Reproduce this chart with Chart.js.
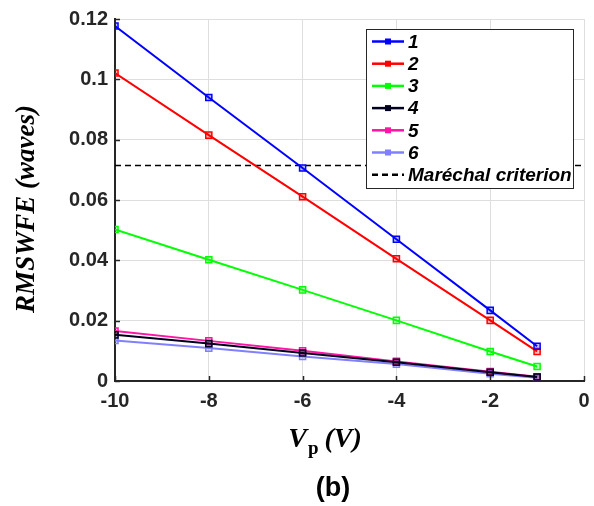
<!DOCTYPE html>
<html lang="en">
<head>
  <meta charset="UTF-8" />
  <title>RMSWFE vs Vp</title>
  <script src="https://cdn.jsdelivr.net/npm/chart.js"></script>
  <style>
    body { margin: 0; background: white; }
    .chart-container { position: relative; width: 594px; height: 506px; }
  </style>
</head>
<body>
  <div class="chart-container">
    <canvas id="wfeChart"></canvas>
  </div>

  <script>
    // data
    const voltages = [-10, -8, -6, -4, -2, -1];
    const series1 = [0.1177, 0.0940, 0.0706, 0.0470, 0.0234, 0.0115];
    const series2 = [0.1021, 0.0815, 0.0611, 0.0405, 0.0201, 0.0098];
    const series3 = [0.0502, 0.0402, 0.0302, 0.0201, 0.0098, 0.0048];
    const series4 = [0.0153, 0.0124, 0.0093, 0.0062, 0.0029, 0.0013];
    const series5 = [0.0166, 0.0133, 0.0100, 0.0065, 0.0031, 0.0014];
    const series6 = [0.0134, 0.0109, 0.0081, 0.0056, 0.0024, 0.0011];
    const marechalX = [-10, 0];
    const marechalY = [0.0714, 0.0714];
    const seriesNames = ['1', '2', '3', '4', '5', '6'];
    const seriesColors = ['#0000ff', '#ff0000', '#00ff00', '#00001f', '#ff14a8', '#8080ff'];
    const xTicks = [-10, -8, -6, -4, -2, 0];
    const yTicks = [0, 0.02, 0.04, 0.06, 0.08, 0.1, 0.12];

    const allSeries = [series1, series2, series3, series4, series5, series6];

    function hexAlpha(hex, a) {
      const n = parseInt(hex.slice(1), 16);
      return 'rgba(' + (n >> 16) + ',' + ((n >> 8) & 255) + ',' + (n & 255) + ',' + a + ')';
    }

    const datasets = allSeries.map((vals, i) => ({
      label: seriesNames[i],
      data: voltages.map((v, j) => ({ x: v, y: vals[j] })),
      borderColor: seriesColors[i],
      backgroundColor: seriesColors[i],
      borderWidth: 2,
      pointStyle: 'rect',
      pointRadius: 4.3,
      pointBorderWidth: 1.5,
      pointBackgroundColor: hexAlpha(seriesColors[i], 0.25),
      pointBorderColor: seriesColors[i],
      tension: 0,
      fill: false
    }));

    datasets.push({
      label: 'Maréchal criterion',
      data: marechalX.map((v, j) => ({ x: v, y: marechalY[j] })),
      borderColor: '#000',
      backgroundColor: '#000',
      borderWidth: 1.5,
      borderDash: [6, 4],
      pointRadius: 0,
      fill: false
    });

    const tickColor = '#262626';

    // inward tick marks, axis titles, caption and legend box
    const decorations = {
      id: 'decorations',
      afterDraw(chart) {
        const c = chart.ctx;
        const xs = chart.scales.x, ys = chart.scales.y;
        const area = chart.chartArea;

        c.save();
        c.strokeStyle = tickColor;
        c.lineWidth = 1.5;
        xTicks.forEach(v => {
          const px = Math.round(xs.getPixelForValue(v)) + 0.5;
          c.beginPath();
          c.moveTo(px, area.bottom);
          c.lineTo(px, area.bottom - 5);
          c.stroke();
        });
        yTicks.forEach(v => {
          const py = Math.round(ys.getPixelForValue(v)) + 0.5;
          c.beginPath();
          c.moveTo(area.left, py);
          c.lineTo(area.left + 5, py);
          c.stroke();
        });

        // y title
        c.fillStyle = '#000';
        c.font = 'italic bold 27px "Liberation Serif"';
        c.textAlign = 'center';
        c.textBaseline = 'middle';
        c.translate(27, 209);
        c.rotate(-Math.PI / 2);
        c.fillText('RMSWFE (waves)', 0, 0);
        c.setTransform(1, 0, 0, 1, 0, 0);

        // x title: V with subscript p
        const bigFont = 'italic bold 28px "Liberation Serif"';
        const subFont = 'bold 19px "Liberation Serif"';
        c.textBaseline = 'alphabetic';
        c.textAlign = 'left';
        c.font = bigFont;
        const wV = c.measureText('V').width;
        const wRest = c.measureText(' (V)').width;
        c.font = subFont;
        const wP = c.measureText('p').width;
        let x0 = 325 - (wV + wP + wRest) / 2;
        c.font = bigFont;
        c.fillText('V', x0, 447);
        c.font = subFont;
        c.fillText('p', x0 + wV + 1, 454);
        c.font = bigFont;
        c.fillText(' (V)', x0 + wV + wP, 447);

        // caption
        c.font = 'bold 27px "Liberation Sans"';
        c.textAlign = 'center';
        c.fillText('(b)', 333, 496);

        // legend
        const lx = 366, ly = 29, lw = 207, lh = 159;
        c.fillStyle = '#fff';
        c.fillRect(lx, ly, lw, lh);
        c.strokeStyle = tickColor;
        c.lineWidth = 1;
        c.strokeRect(lx + 0.5, ly + 0.5, lw, lh);
        c.font = 'italic bold 19px "Liberation Sans"';
        c.textAlign = 'left';
        c.textBaseline = 'middle';
        chart.data.datasets.forEach((ds, i) => {
          const cy = 41.5 + i * 22.2;
          c.strokeStyle = ds.borderColor;
          c.lineWidth = 2.5;
          c.setLineDash(ds.borderDash || []);
          c.beginPath();
          c.moveTo(372, cy);
          c.lineTo(404, cy);
          c.stroke();
          c.setLineDash([]);
          if (ds.pointRadius) {
            c.fillStyle = ds.borderColor;
            c.fillRect(385, cy - 3, 6, 6);
          }
          c.fillStyle = '#000';
          c.fillText(ds.label, 408, cy + 1);
        });
        c.restore();
      }
    };

    const ctx = document.getElementById('wfeChart').getContext('2d');
    new Chart(ctx, {
      type: 'line',
      data: { datasets: datasets },
      options: {
        responsive: true,
        maintainAspectRatio: false,
        animation: false,
        layout: { padding: { top: 19, right: 10, left: 0, bottom: 0 } },
        scales: {
          x: {
            type: 'linear',
            min: -10,
            max: 0,
            afterFit: s => { s.height = 125; s.paddingLeft = 0; s.paddingRight = 0; },
            afterBuildTicks: s => { s.ticks = xTicks.map(v => ({ value: v })); },
            ticks: {
              color: tickColor,
              font: { family: 'Liberation Sans', size: 20, weight: 'bold' },
              padding: 8,
              maxRotation: 0,
              callback: v => String(v)
            },
            grid: { color: '#dedede', lineWidth: 1, drawTicks: false },
            border: { color: tickColor, width: 2 }
          },
          y: {
            type: 'linear',
            min: 0,
            max: 0.12,
            afterFit: s => { s.width = 115; s.paddingTop = 0; s.paddingBottom = 0; },
            afterBuildTicks: s => { s.ticks = yTicks.map(v => ({ value: v })); },
            ticks: {
              color: tickColor,
              font: { family: 'Liberation Sans', size: 20, weight: 'bold' },
              padding: 7,
              callback: v => String(+v.toFixed(2))
            },
            grid: { color: '#dedede', lineWidth: 1, drawTicks: false },
            border: { color: tickColor, width: 2 }
          }
        },
        plugins: {
          legend: { display: false },
          tooltip: { enabled: false }
        }
      },
      plugins: [decorations]
    });
  </script>
</body>
</html>
